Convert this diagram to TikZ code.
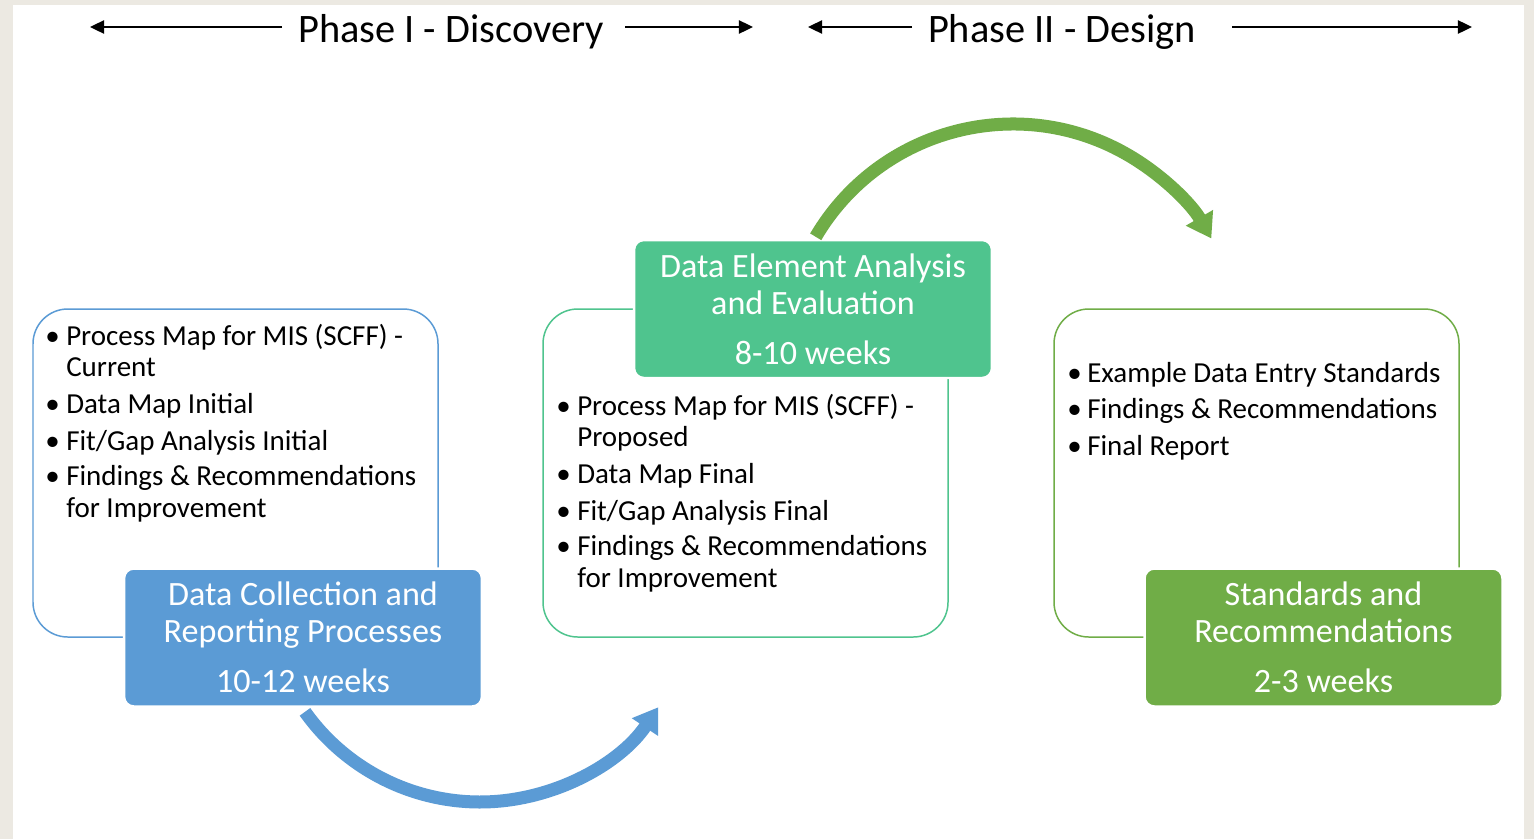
\documentclass[tikz,border=0pt]{standalone}
\usepackage{fontspec}
\setmainfont{Carlito}
\usetikzlibrary{arrows.meta}
\newdimen\pxu \pxu=0.5669pt
\definecolor{cblue}{HTML}{5B9BD5}
\definecolor{cteal}{HTML}{4FC48E}
\definecolor{cgreen}{HTML}{70AD47}
\definecolor{cbg}{HTML}{ECE9E2}
\begin{document}
\begin{tikzpicture}[x=0.02cm,y=0.02cm,
  frame/.style={draw, line width=0.85pt, rounded corners=19.8pt},
  hdr/.style={rounded corners=5.6pt, draw=white, line width=1.4pt, text=white, align=center,
    font=\fontsize{19.4}{21}\selectfont, inner sep=0, minimum width=7.16cm, minimum height=2.76cm},
  itm/.style={anchor=base west, inner sep=0, font=\fontsize{16.5}{18.7}\selectfont},
  phase/.style={font=\fontsize{23}{27}\selectfont, inner sep=0, anchor=base},
  parr/.style={line width=1.1pt, -{Triangle[length=8pt,width=7.5pt]}},
  bigarr/.style={line width=7.4pt, -{Triangle[length=13.6pt,width=17pt]}}
]
\useasboundingbox (0,0) rectangle (1534,-839);
\fill[cbg] (0,0) rectangle (1534,-839);
\fill[white] (13,-5) rectangle (1524,-839);

% phase titles
\node[phase] (p1) at (451,-42) {Phase I - Discovery};
\node[phase] (p2) at (1062,-42) {Phase II - Design};
\coordinate (p1a) at (282,-27); \coordinate (p1b) at (90,-27);
\coordinate (p1c) at (625,-27); \coordinate (p1d) at (753,-27);
\coordinate (p2a) at (912,-27); \coordinate (p2b) at (808,-27);
\coordinate (p2c) at (1232,-27); \coordinate (p2d) at (1472,-27);
\draw[parr] (p1a) -- (p1b);
\draw[parr] (p1c) -- (p1d);
\draw[parr] (p2a) -- (p2b);
\draw[parr] (p2c) -- (p2d);

% frames
\draw[frame, cblue] (33,-309) rectangle (438,-637);
\draw[frame, cteal] (543,-309) rectangle (948,-637);
\draw[frame, cgreen] (1054,-309) rectangle (1459,-637);

% box 1 items
\node[itm] (a1) at (45,-345) {\makebox[21\pxu][l]{\textbullet}\parbox[t]{380\pxu}{\baselineskip=32\pxu Process Map for MIS (SCFF) -\\Current}};
\node[itm] (a2) at (45,-413) {\makebox[21\pxu][l]{\textbullet}Data Map Initial};
\node[itm] (a3) at (45,-450) {\makebox[21\pxu][l]{\textbullet}Fit/Gap Analysis Initial};
\node[itm] (a4) at (45,-485) {\makebox[21\pxu][l]{\textbullet}\parbox[t]{380\pxu}{\baselineskip=33\pxu Findings \& Recommendations\\for Improvement}};

% box 2 items
\node[itm] (b1) at (556,-415) {\makebox[21\pxu][l]{\textbullet}\parbox[t]{380\pxu}{\baselineskip=32\pxu Process Map for MIS (SCFF) -\\Proposed}};
\node[itm] (b2) at (556,-483) {\makebox[21\pxu][l]{\textbullet}Data Map Final};
\node[itm] (b3) at (556,-520) {\makebox[21\pxu][l]{\textbullet}Fit/Gap Analysis Final};
\node[itm] (b4) at (556,-555) {\makebox[21\pxu][l]{\textbullet}\parbox[t]{380\pxu}{\baselineskip=33\pxu Findings \& Recommendations\\for Improvement}};

% box 3 items
\node[itm] (c1) at (1067,-382) {\makebox[20\pxu][l]{\textbullet}Example Data Entry Standards};
\node[itm] (c2) at (1067,-418) {\makebox[20\pxu][l]{\textbullet}Findings \& Recommendations};
\node[itm] (c3) at (1067,-455) {\makebox[20\pxu][l]{\textbullet}Final Report};

% header boxes
\node[hdr, fill=cblue] (h1) at (303,-637.5) {Data Collection and\\Reporting Processes\\[7.4pt]10-12 weeks};
\node[hdr, fill=cteal] (h2) at (813,-309) {Data Element Analysis\\and Evaluation\\[7.4pt]8-10 weeks};
\node[hdr, fill=cgreen] (h3) at (1323.5,-637.5) {Standards and\\Recommendations\\[7.4pt]2-3 weeks};

% curved arrows
\coordinate (bc) at (480,-587);
\draw[bigarr, cblue] (bc) ++(215.5:215) arc[start angle=215.5, end angle=326, radius=215];
\coordinate (gc) at (1013,-353);
\draw[bigarr, cgreen] (gc) ++(149.5:229) arc[start angle=149.5, end angle=30, radius=229];
\end{tikzpicture}
\end{document}
